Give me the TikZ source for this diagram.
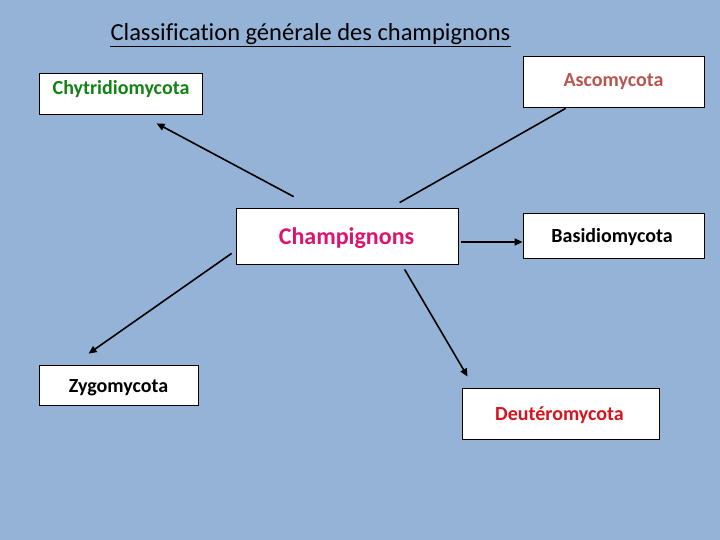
\documentclass[tikz,border=0pt]{standalone}
\usepackage{fontspec}
\setmainfont[Ligatures=NoCommon]{Carlito}
\usetikzlibrary{arrows.meta,calc}
\definecolor{bgblue}{HTML}{95B3D7}
\definecolor{chygreen}{RGB}{20,130,20}
\definecolor{ascored}{RGB}{185,85,80}
\definecolor{champpink}{RGB}{220,20,110}
\definecolor{deured}{RGB}{215,20,30}
\tikzset{
  box/.style={draw=black,line width=0.8pt,fill=white,inner sep=0pt,rectangle},
  lbl/.style={anchor=base,inner sep=0pt,font=\fontsize{20}{24}\selectfont\bfseries},
  conn/.style={line width=1.6pt,black},
  arr/.style={conn,-{Triangle[length=8pt,width=7pt]}}
}
\begin{document}
\begin{tikzpicture}[x=1pt,y=-1pt]
\fill[bgblue] (0,0) rectangle (720,540);
\useasboundingbox (0,0) rectangle (720,540);
% title
\node[anchor=base,inner sep=0pt,font=\fontsize{24.5}{28}\selectfont] (title) at (310.5,41) {Classification générale des champignons};
\draw[line width=1.8pt] ($(title.base west)+(0,5.5)$) -- ($(title.base east)+(0,5.5)$);
% boxes
\node[box,minimum width=163pt,minimum height=41pt] (chy) at (120.5,93.5) {};
\node[box,minimum width=181pt,minimum height=51pt] (asc) at (613.5,81.5) {};
\node[box,minimum width=222pt,minimum height=56pt] (champ) at (347,236) {};
\node[box,minimum width=181pt,minimum height=45pt] (bas) at (613.5,235.5) {};
\node[box,minimum width=159pt,minimum height=40pt] (zyg) at (118.5,385) {};
\node[box,minimum width=197pt,minimum height=51pt] (deu) at (560.5,413.5) {};
% labels
\node[lbl,text=chygreen] (chyT) at (121,95) {Chytridiomycota};
\node[lbl,text=ascored] (ascT) at (613.5,87) {Ascomycota};
\node[lbl,text=champpink,font=\fontsize{24}{28}\selectfont\bfseries] (champT) at (346.5,244) {Champignons};
\node[lbl,text=black] (basT) at (612,243) {Basidiomycota};
\node[lbl,text=black] (zygT) at (118.5,392.5) {Zygomycota};
\node[lbl,text=deured] (deuT) at (559.5,420.5) {Deutéromycota};
% connectors
\draw[arr] ($(champ.north west)+(58,-11)$) -- ($(chy.south west)+(118,9)$);
\draw[conn] ($(champ.north west)+(164,-5)$) -- ($(asc.south west)+(43,1)$);
\draw[arr] ($(champ.east)+(3,6)$) -- ($(bas.west)+(0,6.5)$);
\draw[arr] ($(champ.south west)+(-4,-11)$) -- ($(zyg.north west)+(50,-11)$);
\draw[arr] ($(champ.south west)+(169,5)$) -- ($(deu.north west)+(6,-11)$);
\end{tikzpicture}
\end{document}
